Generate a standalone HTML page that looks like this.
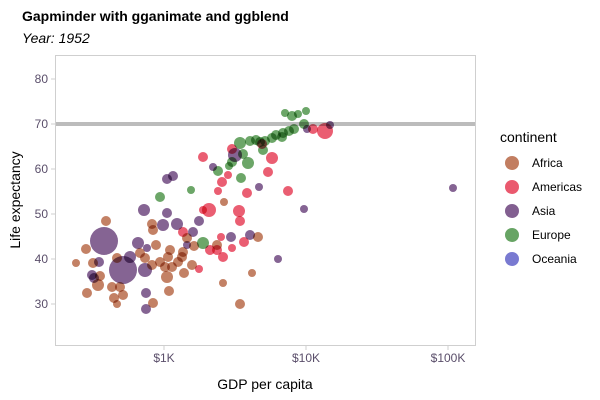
<!DOCTYPE html>
<html><head><meta charset="utf-8"><style>
body{margin:0;background:#fff}
svg{display:block;font-family:"Liberation Sans",sans-serif}
.A{fill:#bb7050}.M{fill:#e8475e}.S{fill:#744e84}.E{fill:#579a53}.O{fill:#6a6ccc}
.pts circle{opacity:.88;mix-blend-mode:multiply}
</style></head><body>
<svg width="600" height="400" viewBox="0 0 600 400">
<rect width="600" height="400" fill="#fff"/>
<text x="22" y="21" font-size="14" font-weight="bold" fill="#000">Gapminder with gganimate and ggblend</text>
<text x="22" y="43" font-size="14" font-style="italic" fill="#000">Year: 1952</text>
<rect x="55.5" y="55.5" width="420" height="290" fill="none" stroke="#cfcfcf" stroke-width="1"/>
<g stroke="#cfcfcf"><line x1="51" x2="55" y1="79" y2="79"/><line x1="51" x2="55" y1="124" y2="124"/><line x1="51" x2="55" y1="169" y2="169"/><line x1="51" x2="55" y1="214" y2="214"/><line x1="51" x2="55" y1="259" y2="259"/><line x1="51" x2="55" y1="304" y2="304"/>
<line x1="164" x2="164" y1="346" y2="350"/><line x1="306" x2="306" y1="346" y2="350"/><line x1="448" x2="448" y1="346" y2="350"/></g>
<g font-size="12" fill="#5a4e6a" text-anchor="end"><text x="48" y="83">80</text><text x="48" y="128">70</text><text x="48" y="173">60</text><text x="48" y="218">50</text><text x="48" y="263">40</text><text x="48" y="308">30</text></g>
<g font-size="12" fill="#5a4e6a" text-anchor="middle"><text x="164" y="362">$1K</text><text x="306" y="362">$10K</text><text x="448" y="362">$100K</text></g>
<text x="265" y="389" font-size="14" text-anchor="middle">GDP per capita</text>
<text transform="translate(20,200) rotate(-90)" font-size="14" text-anchor="middle">Life expectancy</text>
<line x1="56" x2="475" y1="124" y2="124" stroke="#bcbcbc" stroke-width="4"/>
<g class="pts">
<g class="A">
<circle cx="106" cy="221" r="5"/><circle cx="86" cy="249" r="5"/><circle cx="93" cy="263" r="5"/><circle cx="98" cy="285" r="6"/><circle cx="100" cy="276" r="5"/><circle cx="87" cy="293" r="5"/><circle cx="112" cy="287" r="5"/><circle cx="120" cy="287" r="5"/><circle cx="114" cy="298" r="5"/><circle cx="123" cy="295" r="5"/><circle cx="117" cy="304" r="4"/><circle cx="117" cy="258" r="5"/><circle cx="140" cy="253" r="5"/><circle cx="145" cy="258" r="5"/><circle cx="152" cy="224" r="5"/><circle cx="153" cy="230" r="5"/><circle cx="156" cy="245" r="5"/><circle cx="152" cy="265" r="5"/><circle cx="170" cy="250" r="5"/><circle cx="168" cy="257" r="5"/><circle cx="165" cy="267" r="5"/><circle cx="172" cy="267" r="5"/><circle cx="167" cy="277" r="6"/><circle cx="169" cy="291" r="5"/><circle cx="153" cy="303" r="5"/><circle cx="183" cy="252" r="5"/><circle cx="182" cy="257" r="5"/><circle cx="192" cy="265" r="5"/><circle cx="184" cy="273" r="5"/><circle cx="194" cy="246" r="5"/><circle cx="187" cy="238" r="5"/><circle cx="217" cy="245" r="5"/><circle cx="224" cy="202" r="4"/><circle cx="223" cy="283" r="4"/><circle cx="240" cy="304" r="5"/><circle cx="252" cy="273" r="4"/><circle cx="258" cy="237" r="5"/><circle cx="76" cy="263" r="4"/><circle cx="160" cy="262" r="5"/><circle cx="178" cy="262" r="5"/>
</g>
<g class="M">
<circle cx="203" cy="157" r="5"/><circle cx="232" cy="149" r="5"/><circle cx="222" cy="182" r="5"/><circle cx="218" cy="191" r="4"/><circle cx="209" cy="210" r="7"/><circle cx="203" cy="210" r="4"/><circle cx="239" cy="211" r="6"/><circle cx="240" cy="221" r="5"/><circle cx="247" cy="193" r="5"/><circle cx="268" cy="172" r="5"/><circle cx="272" cy="158" r="6"/><circle cx="288" cy="191" r="5"/><circle cx="183" cy="232" r="5"/><circle cx="210" cy="250" r="5"/><circle cx="217" cy="250" r="5"/><circle cx="223" cy="257" r="5"/><circle cx="232" cy="248" r="4"/><circle cx="244" cy="242" r="5"/><circle cx="199" cy="269" r="4"/><circle cx="228" cy="175" r="4"/><circle cx="325" cy="131" r="8"/><circle cx="313" cy="129" r="5"/><circle cx="262" cy="144" r="5"/><circle cx="221" cy="237" r="4"/>
</g>
<g class="S">
<circle cx="104" cy="241" r="14"/><circle cx="123" cy="270" r="14"/><circle cx="99" cy="262" r="5"/><circle cx="92" cy="275" r="5"/><circle cx="130" cy="257" r="6"/><circle cx="138" cy="243" r="6"/><circle cx="145" cy="270" r="7"/><circle cx="147" cy="248" r="4"/><circle cx="144" cy="210" r="6"/><circle cx="167" cy="213" r="5"/><circle cx="163" cy="225" r="6"/><circle cx="177" cy="224" r="6"/><circle cx="199" cy="221" r="5"/><circle cx="193" cy="232" r="5"/><circle cx="187" cy="245" r="4"/><circle cx="167" cy="179" r="5"/><circle cx="173" cy="176" r="5"/><circle cx="146" cy="293" r="5"/><circle cx="146" cy="309" r="5"/><circle cx="235" cy="155" r="7"/><circle cx="213" cy="167" r="4"/><circle cx="259" cy="187" r="4"/><circle cx="250" cy="235" r="5"/><circle cx="231" cy="237" r="5"/><circle cx="278" cy="259" r="4"/><circle cx="304" cy="209" r="4"/><circle cx="453" cy="188" r="4"/><circle cx="94" cy="278" r="5"/><circle cx="307" cy="129" r="4"/><circle cx="330" cy="125" r="4"/>
</g>
<g class="E">
<circle cx="160" cy="197" r="5"/><circle cx="191" cy="190" r="4"/><circle cx="203" cy="243" r="6"/><circle cx="241" cy="178" r="5"/><circle cx="248" cy="163" r="6"/><circle cx="240" cy="143" r="6"/><circle cx="218" cy="171" r="5"/><circle cx="263" cy="150" r="5"/><circle cx="260" cy="142" r="5"/><circle cx="282" cy="137" r="5"/><circle cx="285" cy="113" r="4"/><circle cx="292" cy="116" r="5"/><circle cx="306" cy="111" r="4"/><circle cx="298" cy="114" r="4"/><circle cx="304" cy="124" r="5"/><circle cx="289" cy="131" r="5"/><circle cx="294" cy="129" r="5"/><circle cx="283" cy="133" r="5"/><circle cx="272" cy="138" r="5"/><circle cx="265" cy="141" r="5"/><circle cx="256" cy="140" r="5"/><circle cx="250" cy="141" r="5"/><circle cx="276" cy="135" r="5"/><circle cx="232" cy="162" r="5"/><circle cx="243" cy="154" r="5"/><circle cx="229" cy="166" r="4"/>
</g>
</g>
<text x="500" y="142" font-size="14">continent</text>
<circle cx="512" cy="163" r="7" class="A" opacity=".9"/><circle cx="512" cy="187" r="7" class="M" opacity=".9"/><circle cx="512" cy="211" r="7" class="S" opacity=".9"/><circle cx="512" cy="235" r="7" class="E" opacity=".9"/><circle cx="512" cy="259" r="7" class="O" opacity=".9"/>
<g font-size="12"><text x="532" y="167">Africa</text><text x="532" y="191">Americas</text><text x="532" y="215">Asia</text><text x="532" y="239">Europe</text><text x="532" y="263">Oceania</text></g>
</svg>
</body></html>
